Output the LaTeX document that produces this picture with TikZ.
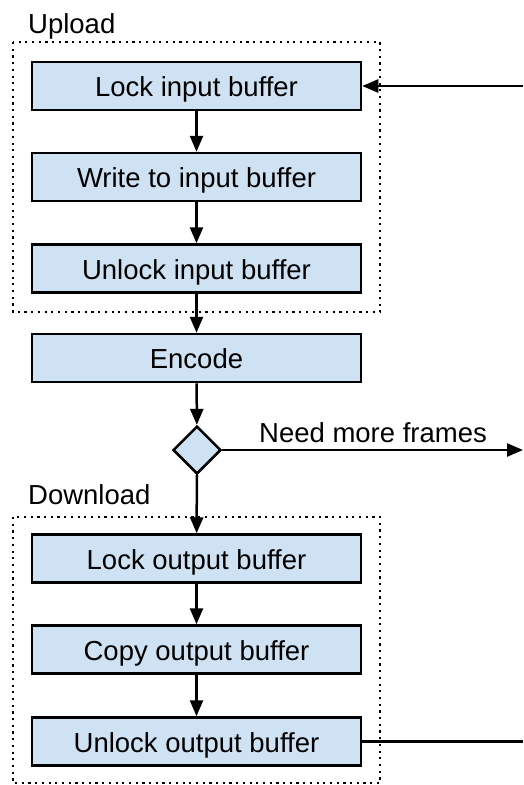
\documentclass[tikz,border=0pt]{standalone}
\usepackage{fontspec}
\setmainfont{Liberation Sans}
\usetikzlibrary{arrows.meta,shapes.geometric}
\definecolor{boxfill}{HTML}{CFE2F3}
\tikzset{
  stepbox/.style={draw=black, line width=2.5pt, fill=boxfill, rectangle,
    minimum width=329pt, minimum height=48pt, inner sep=0pt,
    text height=21pt, text depth=0pt},
  decision/.style={draw=black, line width=2.5pt, fill=boxfill, diamond,
    minimum width=48pt, minimum height=48pt, inner sep=0pt},
  flow/.style={line width=2.5pt, -{Triangle[length=16pt,width=13pt]}},
  plainline/.style={line width=2.5pt},
  group/.style={line width=2.5pt, dash pattern=on 2.2pt off 4.5pt},
  caption/.style={inner sep=0pt, anchor=base west}
}
\begin{document}
\begin{tikzpicture}[x=1pt, y=-1pt, font=\fontsize{27.5}{33}\selectfont]
\useasboundingbox (0,0) rectangle (523,785);

% group frames
\draw[group] (13,42) rectangle (380,312);
\draw[group] (13,517) rectangle (380,783);
\node[caption] (upl) at (28,33) {Upload};
\node[caption] (dnl) at (28,504) {Download};

% steps
\node[stepbox] (lockin) at (196.5,86) {Lock input buffer};
\node[stepbox] (writein) at (196.5,177) {Write to input buffer};
\node[stepbox] (unlockin) at (196.5,268.5) {Unlock input buffer};
\node[stepbox] (encode) at (196.5,358) {Encode};
\node[decision] (more) at (197,450) {};
\node[stepbox] (lockout) at (196.5,558.5) {Lock output buffer};
\node[stepbox] (copyout) at (196.5,649.5) {Copy output buffer};
\node[stepbox] (unlockout) at (196.5,741.5) {Unlock output buffer};

% loose ends on the right
\coordinate (loopin) at (523,86);
\coordinate (loopout) at (523,450);
\coordinate (doneout) at (523,741.5);

% connectors
\draw[flow] (lockin) -- (writein);
\draw[flow] (writein) -- (unlockin);
\draw[flow] (unlockin) -- (encode);
\draw[flow] (encode) -- (more);
\draw[flow] (more) -- (lockout);
\draw[flow] (lockout) -- (copyout);
\draw[flow] (copyout) -- (unlockout);
\draw[flow] (loopin) -- (lockin.east);
\draw[flow] (more.east) -- (loopout);
\node[caption] (needmore) at (259,442) {Need more frames};
\draw[plainline] (unlockout.east) -- (doneout);
\end{tikzpicture}
\end{document}
